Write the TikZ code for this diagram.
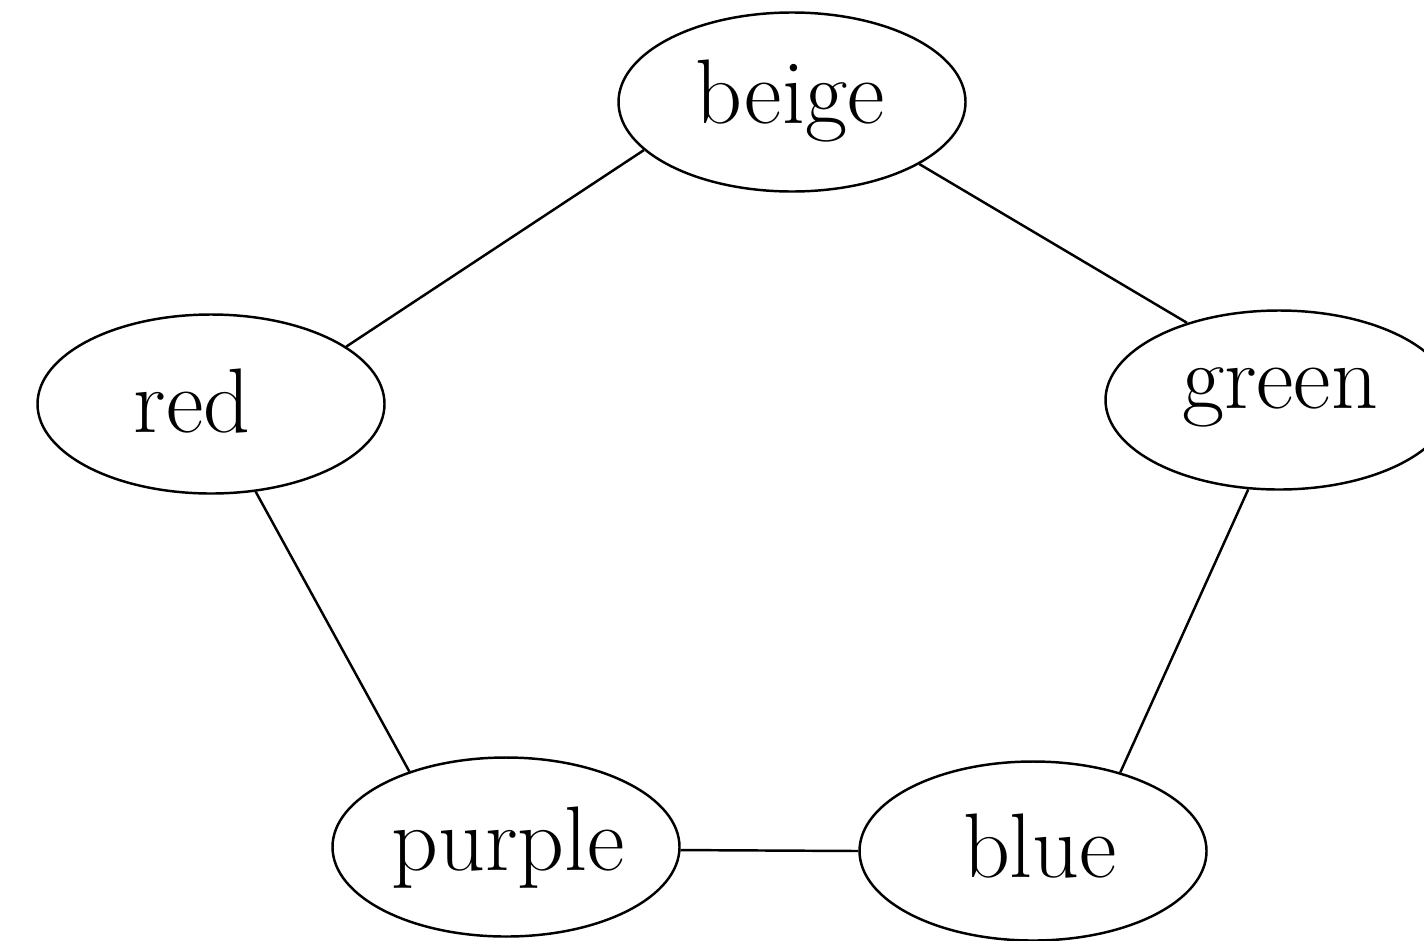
\documentclass[tikz,border=0pt]{standalone}
\usetikzlibrary{shapes.geometric}
\begin{document}
\begin{tikzpicture}[
  vtx/.style={draw, ellipse, line width=0.7pt, minimum width=3.47cm, minimum height=1.79cm, inner sep=0pt},
  lbl/.style={anchor=base, inner sep=0pt, font=\fontsize{26.1}{30}\selectfont},
  edge/.style={line width=0.7pt}
]
\useasboundingbox (0,0) rectangle (14.24,9.40);
\node[vtx] (beige) at (7.92,8.38) {};
\node[vtx] (red) at (2.11,5.36) {};
\node[vtx] (green) at (12.79,5.40) {};
\node[vtx] (purple) at (5.06,0.93) {};
\node[vtx] (blue) at (10.33,0.89) {};
\node[lbl] (tbeige) at (7.90,8.17) {beige};
\node[lbl] (tred) at (1.92,5.08) {red};
\node[lbl] (tgreen) at (12.80,5.32) {green};
\node[lbl] (tpurple) at (5.08,0.70) {purple};
\node[lbl] (tblue) at (10.40,0.63) {blue};
\draw[edge] (beige.198.6) -- (red.23.8);
\draw[edge] (beige.334.5) -- (green.140.7);
\draw[edge] (red.297.8) -- (purple.142.9);
\draw[edge] (green.251) -- (blue.42.9);
\draw[edge] (purple.359.7) -- (blue.180.7);
\end{tikzpicture}
\end{document}
